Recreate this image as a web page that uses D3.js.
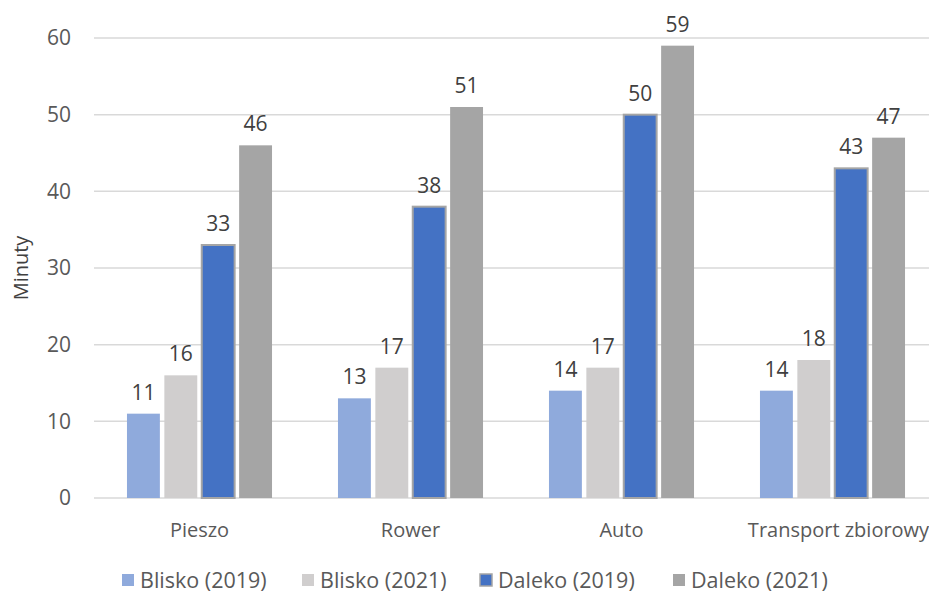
<!DOCTYPE html>
<html>
<head>
<meta charset="utf-8">
<script src="https://cdn.jsdelivr.net/npm/d3@7"></script>
<style>
  body { margin: 0; background: #fff; }
  text { font-family: "Open Sans", "Noto Sans", sans-serif; }
</style>
</head>
<body>
<div id="chart"></div>
<script>
// chart data
const categories = ["Pieszo", "Rower", "Auto", "Transport zbiorowy"];
const seriesNames = ["Blisko (2019)", "Blisko (2021)", "Daleko (2019)", "Daleko (2021)"];
const blisko2019 = [11, 13, 14, 14];
const blisko2021 = [16, 17, 17, 18];
const daleko2019 = [33, 38, 50, 43];
const daleko2021 = [46, 51, 59, 47];
const yTicks = [0, 10, 20, 30, 40, 50, 60];

const colors = ["#8FAADC", "#D0CECE", "#4472C4", "#A5A5A5"];
const seriesValues = [blisko2019, blisko2021, daleko2019, daleko2021];

const width = 929, height = 594;
const margin = { left: 94, right: -9, top: 38, bottom: 96 };

const svg = d3.select("#chart").append("svg")
  .attr("width", width)
  .attr("height", height);

const y = d3.scaleLinear()
  .domain([0, 60])
  .range([height - margin.bottom, margin.top]);

const x0 = d3.scaleBand()
  .domain(categories)
  .range([margin.left, width - margin.right])
  .paddingInner(0.27)
  .paddingOuter(0.135);

const x1 = d3.scaleBand()
  .domain(seriesNames)
  .range([0, x0.bandwidth()])
  .padding(0.12);

// gridlines
svg.append("g")
  .selectAll("line")
  .data(yTicks)
  .join("line")
  .attr("x1", margin.left)
  .attr("x2", width)
  .attr("y1", d => y(d))
  .attr("y2", d => y(d))
  .attr("stroke", "#D9D9D9")
  .attr("stroke-width", 1.5);

// y tick labels
svg.append("g")
  .selectAll("text")
  .data(yTicks)
  .join("text")
  .attr("x", 71)
  .attr("y", d => y(d))
  .attr("dy", "0.35em")
  .attr("text-anchor", "end")
  .attr("fill", "#595959")
  .style("font-size", "21px")
  .text(d => d);

// y title
svg.append("text")
  .attr("transform", "translate(28," + (y(30)) + ") rotate(-90)")
  .attr("text-anchor", "middle")
  .attr("fill", "#404040")
  .style("font-size", "20px")
  .text("Minuty");

// bars
const rows = categories.map((c, i) => ({
  cat: c,
  vals: seriesNames.map((s, j) => ({ key: s, idx: j, value: seriesValues[j][i] }))
}));

const groups = svg.append("g")
  .selectAll("g")
  .data(rows)
  .join("g")
  .attr("transform", d => "translate(" + x0(d.cat) + ",0)");

groups.selectAll("rect")
  .data(d => d.vals)
  .join("rect")
  .attr("x", d => x1(d.key))
  .attr("y", d => y(d.value))
  .attr("width", x1.bandwidth())
  .attr("height", d => y(0) - y(d.value))
  .attr("fill", d => colors[d.idx])
  .attr("stroke", d => d.idx === 2 ? "#A5A5A5" : "none")
  .attr("stroke-width", 2);

groups.selectAll("text")
  .data(d => d.vals)
  .join("text")
  .attr("x", d => x1(d.key) + x1.bandwidth() / 2)
  .attr("y", d => y(d.value) - 14)
  .attr("text-anchor", "middle")
  .attr("fill", "#404040")
  .style("font-size", "21px")
  .text(d => d.value);

// category labels (last one nudged right like the original)
svg.append("g")
  .selectAll("text")
  .data(categories)
  .join("text")
  .attr("x", (d, i) => x0(d) + x0.bandwidth() / 2 + (i === 3 ? 6 : 0))
  .attr("y", y(0) + 39)
  .attr("text-anchor", "middle")
  .attr("fill", "#595959")
  .style("font-size", "20px")
  .text(d => d);

// legend
const legendX = [122, 302, 480, 673];
const legend = svg.append("g")
  .selectAll("g")
  .data(seriesNames)
  .join("g")
  .attr("transform", (d, i) => "translate(" + legendX[i] + ",574)");

legend.append("rect")
  .attr("width", 12)
  .attr("height", 12)
  .attr("fill", (d, i) => colors[i])
  .attr("stroke", (d, i) => i === 2 ? "#A5A5A5" : "none")
  .attr("stroke-width", 1.5);

legend.append("text")
  .attr("x", 18)
  .attr("y", 6)
  .attr("dy", "0.35em")
  .attr("fill", "#595959")
  .style("font-size", "21.5px")
  .text(d => d);
</script>
</body>
</html>
